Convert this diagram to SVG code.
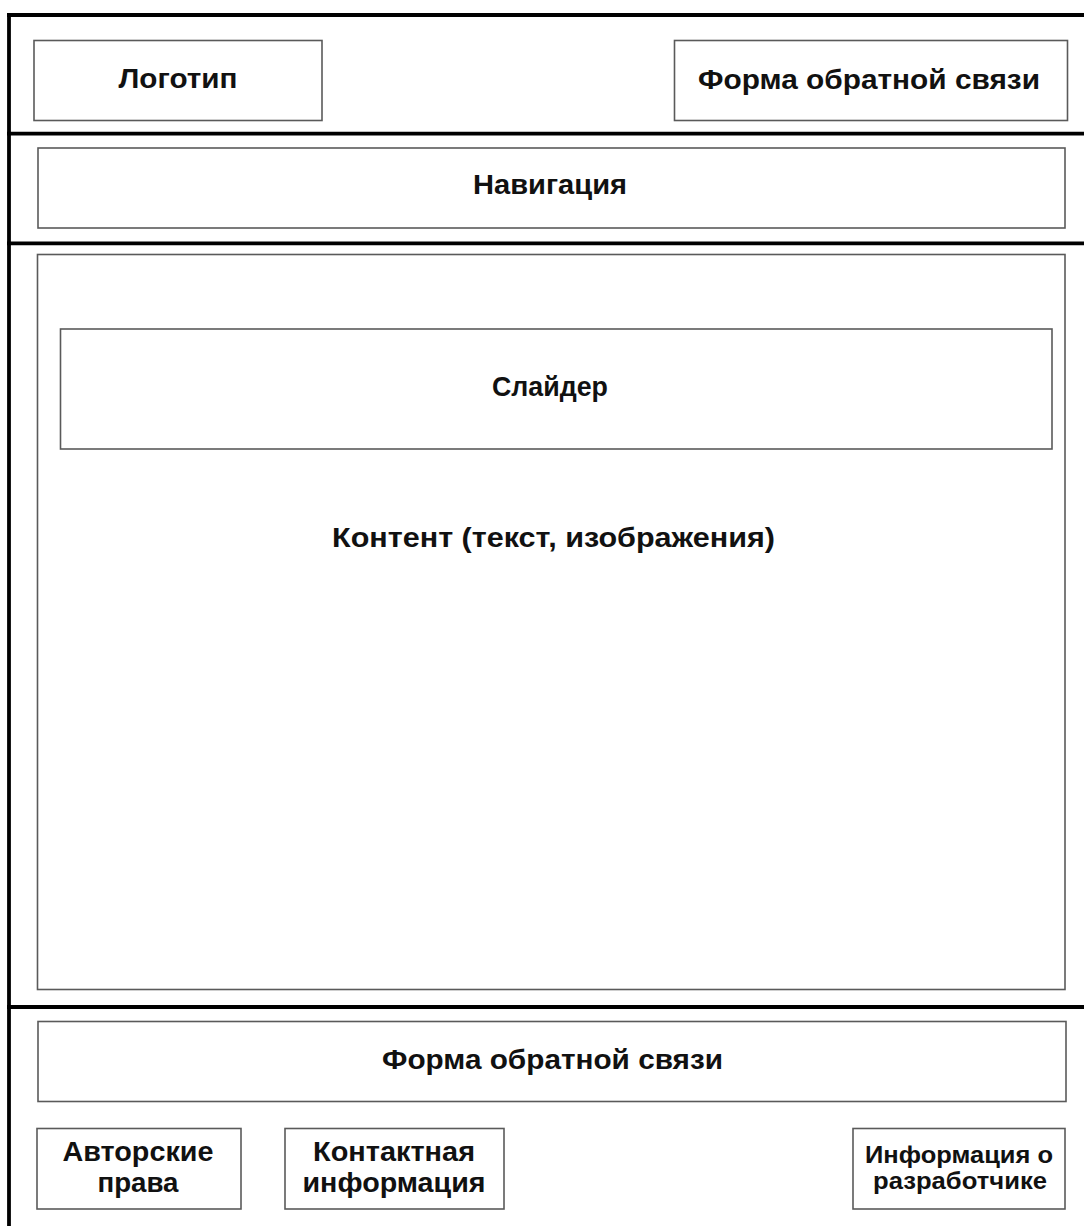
<svg xmlns="http://www.w3.org/2000/svg" width="1084" height="1226" viewBox="0 0 1084 1226">
<style>
.frame{stroke:#000;stroke-width:3.8;fill:none}
.box{fill:#fff;stroke:#5a5a5a;stroke-width:1.6}
.t{font-family:"Liberation Sans",Arial,sans-serif;font-weight:bold;font-size:28.5px;fill:#111;text-anchor:middle}
.s{font-size:24.5px}
</style>
<rect width="1084" height="1226" fill="#fff"/>
<g id="frame">
<line class="frame" x1="7" y1="15" x2="1084" y2="15"/>
<line class="frame" x1="9" y1="13" x2="9" y2="1226"/>
<line class="frame" x1="7" y1="133.7" x2="1084" y2="133.7"/>
<line class="frame" x1="7" y1="243.3" x2="1084" y2="243.3"/>
<line class="frame" x1="7" y1="1007" x2="1084" y2="1007"/>
</g>
<g id="connectors"></g>
<g id="logo"><rect class="box" x="34" y="40.5" width="288" height="80"/><text class="t" x="178" y="88" textLength="119" lengthAdjust="spacingAndGlyphs">Логотип</text></g>
<g id="feedback-top"><rect class="box" x="674.5" y="40.5" width="393" height="80"/><text class="t" x="869" y="89" textLength="342" lengthAdjust="spacingAndGlyphs">Форма обратной связи</text></g>
<g id="nav"><rect class="box" x="38" y="148" width="1027" height="80"/><text class="t" x="550" y="194" textLength="154" lengthAdjust="spacingAndGlyphs">Навигация</text></g>
<g id="content"><rect class="box" x="37.5" y="254.5" width="1027.5" height="735"/><text class="t" x="553.5" y="547" textLength="443" lengthAdjust="spacingAndGlyphs">Контент (текст, изображения)</text></g>
<g id="slider"><rect class="box" x="60.5" y="329" width="991.5" height="120"/><text class="t" x="550" y="396" textLength="116" lengthAdjust="spacingAndGlyphs">Слайдер</text></g>
<g id="feedback-bottom"><rect class="box" x="38" y="1021.5" width="1028" height="80"/><text class="t" x="552.5" y="1069" textLength="341" lengthAdjust="spacingAndGlyphs">Форма обратной связи</text></g>
<g id="copyright"><rect class="box" x="37" y="1128.5" width="204" height="80.5"/><text class="t" x="138" y="1161" textLength="151" lengthAdjust="spacingAndGlyphs">Авторские</text><text class="t" x="138" y="1192" textLength="81" lengthAdjust="spacingAndGlyphs">права</text></g>
<g id="contacts"><rect class="box" x="285" y="1128.5" width="219" height="80.5"/><text class="t" x="394" y="1161" textLength="162" lengthAdjust="spacingAndGlyphs">Контактная</text><text class="t" x="394" y="1192" textLength="183" lengthAdjust="spacingAndGlyphs">информация</text></g>
<g id="developer"><rect class="box" x="853" y="1128.5" width="212" height="80.5"/><text class="t s" x="959" y="1163" textLength="188" lengthAdjust="spacingAndGlyphs">Информация о</text><text class="t s" x="960" y="1189" textLength="174" lengthAdjust="spacingAndGlyphs">разработчике</text></g>
</svg>
